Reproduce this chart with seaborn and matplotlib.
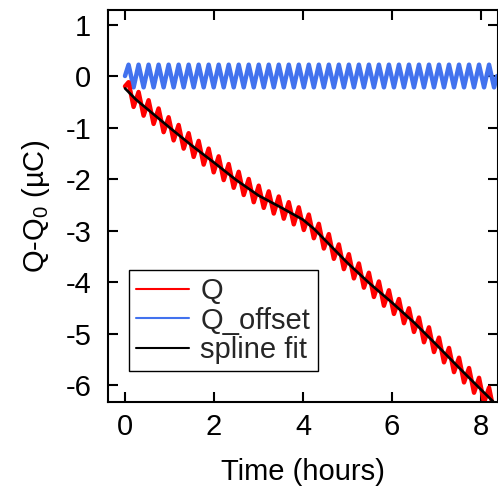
import numpy as np
import pandas as pd
import matplotlib
matplotlib.use("Agg")
import matplotlib.pyplot as plt
import seaborn as sns
from matplotlib.lines import Line2D

# ---- data ----
t_osc = [0.0, 0.080, 0.193, 0.305, 0.418, 0.530, 0.643, 0.755, 0.868, 0.980, 1.093,
         1.205, 1.318, 1.430, 1.543, 1.655, 1.768, 1.880, 1.993, 2.105, 2.218,
         2.330, 2.443, 2.555, 2.668, 2.780, 2.893, 3.005, 3.118, 3.230, 3.343,
         3.455, 3.568, 3.680, 3.793, 3.905, 4.018, 4.130, 4.243, 4.355, 4.468,
         4.580, 4.693, 4.805, 4.918, 5.030, 5.143, 5.255, 5.368, 5.480, 5.593,
         5.705, 5.818, 5.930, 6.043, 6.155, 6.268, 6.380, 6.493, 6.605, 6.718,
         6.830, 6.943, 7.055, 7.168, 7.280, 7.393, 7.505, 7.618, 7.730, 7.843,
         7.955, 8.068, 8.180, 8.293, 8.360]

q_values = [-0.20,
            -0.12, -0.60, -0.31, -0.77, -0.47, -0.93, -0.63, -1.09, -0.80, -1.25,
            -0.95, -1.41, -1.11, -1.57, -1.26, -1.72, -1.41, -1.87, -1.56, -2.02,
            -1.71, -2.17, -1.86, -2.31, -2.00, -2.45, -2.13, -2.56, -2.24, -2.67,
            -2.34, -2.77, -2.45, -2.88, -2.55, -2.99, -2.69, -3.15, -2.87, -3.35,
            -3.07, -3.55, -3.27, -3.75, -3.46, -3.93, -3.64, -4.11, -3.82, -4.29,
            -3.99, -4.46, -4.16, -4.62, -4.33, -4.80, -4.51, -4.97, -4.69, -5.17,
            -4.88, -5.36, -5.08, -5.56, -5.28, -5.75, -5.47, -5.95, -5.67, -6.15,
            -5.86, -6.34, -6.05, -6.53,
            -6.40]

q_offset = [0.00,
            0.22, -0.22, 0.22, -0.22, 0.22, -0.22, 0.22, -0.22, 0.22, -0.22,
            0.22, -0.22, 0.22, -0.22, 0.22, -0.22, 0.22, -0.22, 0.22, -0.22,
            0.22, -0.22, 0.22, -0.22, 0.22, -0.22, 0.22, -0.22, 0.22, -0.22,
            0.22, -0.22, 0.22, -0.22, 0.22, -0.22, 0.22, -0.22, 0.22, -0.22,
            0.22, -0.22, 0.22, -0.22, 0.22, -0.22, 0.22, -0.22, 0.22, -0.22,
            0.22, -0.22, 0.22, -0.22, 0.22, -0.22, 0.22, -0.22, 0.22, -0.22,
            0.22, -0.22, 0.22, -0.22, 0.22, -0.22, 0.22, -0.22, 0.22, -0.22,
            0.22, -0.22, 0.22, -0.22,
            0.00]

t_fit = [0.0, 0.25, 0.5, 0.75, 1.0, 1.5, 2.0, 2.5, 3.0, 3.5, 4.0, 4.25, 4.5,
         5.0, 5.5, 6.0, 6.5, 7.0, 7.5, 8.0, 8.4]
fit_values = [-0.24, -0.46, -0.64, -0.82, -1.00, -1.35, -1.68, -2.02, -2.32,
              -2.55, -2.79, -2.97, -3.19, -3.63, -4.03, -4.40, -4.79, -5.22,
              -5.66, -6.09, -6.43]

series_labels = ["Q", "Q_offset", "spline fit"]
x_ticks = [0, 2, 4, 6, 8]
y_ticks = [1, 0, -1, -2, -3, -4, -5, -6]

osc = pd.DataFrame({"t": t_osc, "Q": q_values, "Q_offset": q_offset})
fit = pd.DataFrame({"t": t_fit, "fit": fit_values})

RED = "#ff0000"
BLUE = "#4272ee"
BLACK = "#000000"

sns.set_theme(style="white")
plt.rcParams["font.family"] = ["Liberation Sans", "DejaVu Sans"]
plt.rcParams["mathtext.default"] = "regular"

fig = plt.figure(figsize=(4.98, 4.90), dpi=100)
ax = fig.add_axes([108 / 498, 88 / 490, 389.5 / 498, 392 / 490])

sns.lineplot(data=osc, x="t", y="Q_offset", color=BLUE, linewidth=3.2,
             estimator=None, sort=False, ax=ax, solid_joinstyle="round")
sns.lineplot(data=osc, x="t", y="Q", color=RED, linewidth=3.2,
             estimator=None, sort=False, ax=ax, solid_joinstyle="round")
sns.lineplot(data=fit, x="t", y="fit", color=BLACK, linewidth=1.9,
             estimator=None, sort=False, ax=ax)

ax.set_xlim(-0.382, 8.37)
ax.set_ylim(-6.33, 1.282)
ax.set_xticks(x_ticks)
ax.set_yticks(y_ticks)
ax.set_xticklabels([str(v) for v in x_ticks])
ax.set_yticklabels([str(v) for v in y_ticks])
ax.tick_params(direction="in", length=7.5, width=1.5, top=True, right=True,
               bottom=True, left=True, labelsize=21, color="black",
               labelcolor="black")
ax.tick_params(axis="y", pad=12)
ax.tick_params(axis="x", pad=8)
for s in ax.spines.values():
    s.set_visible(True)
    s.set_linewidth(1.5)
    s.set_color("black")

ax.set_xlabel("Time (hours)", fontsize=21, color="black", labelpad=12)
ax.set_ylabel("Q-Q$_0$ (µC)", fontsize=21, color="black", labelpad=10)

handles = [Line2D([], [], color=RED, lw=1.5),
           Line2D([], [], color=BLUE, lw=1.5),
           Line2D([], [], color=BLACK, lw=1.5)]
leg = ax.legend(handles, series_labels, loc="upper left",
                bbox_to_anchor=(0.054, 0.337), frameon=True, fancybox=False,
                edgecolor="black", framealpha=1, fontsize=21, handlelength=1.8,
                handletextpad=0.4, labelspacing=0.05, borderpad=0.25,
                borderaxespad=0)
leg.get_frame().set_linewidth(1.0)

fig.savefig("out.png", dpi=100)
